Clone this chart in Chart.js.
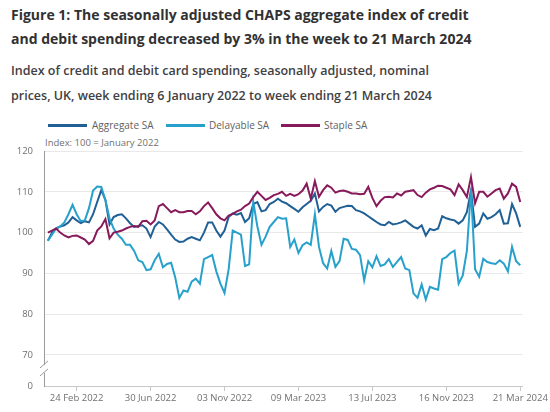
<!DOCTYPE html>
<html>
<head>
<meta charset="utf-8">
<script src="https://cdn.jsdelivr.net/npm/chart.js@4"></script>
<style>
  body { margin: 0; background: #fff; font-family: 'Open Sans', sans-serif; }
  #page { position: relative; width: 550px; height: 412px; overflow: hidden; }
  .t { position: absolute; left: 11px; white-space: nowrap; }
  .title { font-size: 14px; font-weight: 700; color: #323132; line-height: 24px; }
  .sub { font-size: 12.5px; font-weight: 600; color: #414042; line-height: 25px; }
  .leg { position: absolute; top: 118px; font-size: 10px; color: #5f5f5f; line-height: 14px; white-space: nowrap; }
  .sw { position: absolute; height: 3px; width: 39px; top: 124px; }
  #wrap { position: absolute; left: 0; top: 0; width: 550px; height: 412px; }
</style>
</head>
<body>
<div id="page">
  <div class="t title" style="top:3px">Figure 1: The seasonally adjusted CHAPS aggregate index of credit</div>
  <div class="t title" style="top:27px">and debit spending decreased by 3% in the week to 21 March 2024</div>
  <div class="t sub" style="top:58px">Index of credit and debit card spending, seasonally adjusted, nominal</div>
  <div class="t sub" style="top:83px">prices, UK, week ending 6 January 2022 to week ending 21 March 2024</div>

  <div class="sw" style="left:48px;background:#206095"></div>
  <div class="leg" style="left:92px">Aggregate SA</div>
  <div class="sw" style="left:166px;background:#27a0cc"></div>
  <div class="leg" style="left:209px">Delayable SA</div>
  <div class="sw" style="left:281px;background:#871a5b"></div>
  <div class="leg" style="left:324px">Staple SA</div>

  <div class="leg" style="left:45px;top:136px;font-size:9.5px;color:#707071">Index: 100 = January 2022</div>

  <div id="wrap"><canvas id="chart-1"></canvas></div>
</div>

<script>
// weekly series, week ending 6 Jan 2022 .. 21 Mar 2024
var aggregateSA = [
    98, 100, 101, 101.5, 101.8, 102.5, 103.8, 103, 102.3, 102.8,
    102.5, 104.5, 107.5, 110.4, 108, 102, 103.8, 104.3, 104.5, 103.5,
    102.3, 101.4, 101.6, 101.8, 101, 98.9, 101.5, 102.6, 102, 100.8,
    99.5, 98.3, 97.7, 97.8, 98.5, 98.9, 98.5, 98.1, 100, 102.5,
    102.5, 100.5, 99, 100.5, 103.8, 104.7, 104.4, 104.8, 102.6, 103.5,
    107, 107.5, 105.2, 105.5, 107, 107.5, 108.3, 107.6, 107.2, 106.5,
    105.8, 105.1, 106.2, 107, 107.8, 109.6, 105.2, 106.3, 107, 106.6,
    105.1, 106, 106.3, 106.6, 106.5, 105.5, 105.2, 104.7, 104, 103.3,
    102.6, 102, 101.8, 102.6, 102, 102.2, 102.5, 103, 102.2, 101.4,
    101, 101.8, 99.3, 100.9, 100.6, 101, 104, 103.5, 103.2, 103,
    102.2, 103, 105, 110.3, 101.4, 102.2, 104.7, 103.4, 103.8, 104.5,
    105.5, 102.2, 102.3, 107, 104.7, 101.4
];
var delayableSA = [
    98, 99.5, 101, 101.5, 102.5, 104.5, 106.8, 104.5, 102.8, 103,
    106, 110.3, 111.3, 111.2, 108, 103.5, 101, 99.5, 98.5, 97,
    97, 95.5, 93.2, 92.8, 90.8, 91, 93.2, 94.8, 91.5, 92.3,
    92.6, 89, 84, 85.8, 85.5, 88, 88.7, 87.5, 93.5, 94,
    94.5, 90.5, 87.5, 85.2, 91, 100.5, 100, 99.5, 91.8, 92.2,
    107.5, 101.5, 97, 99, 101.4, 102.6, 103.8, 103.4, 103.5, 96.5,
    98.3, 95, 96.9, 97.6, 97, 104.5, 96.5, 92.5, 91.2, 95.5,
    91.6, 93, 98.5, 98.2, 96, 95.8, 94.5, 88.3, 93, 91.5,
    94.2, 91.8, 92.2, 93.5, 91.6, 92.8, 94, 91.2, 90.8, 85.1,
    84, 87.3, 83.6, 86.7, 86.3, 86, 93.5, 94, 95, 95.6,
    87.5, 89.5, 95.5, 110.5, 91, 89.2, 93.6, 92.8, 92.5, 92.3,
    93.2, 92.4, 90.5, 96.5, 93, 92
];
var stapleSA = [
    100, 100.5, 101, 100, 99.3, 98.8, 99.2, 99.3, 98.8, 98.3,
    97.2, 98, 100.5, 101.5, 103.3, 98.6, 100, 100.2, 100.5, 101,
    101.4, 101.6, 101.4, 102.8, 102.9, 102, 103, 106.5, 107, 106,
    105, 105.5, 105, 105, 105.3, 105.3, 104.5, 105.2, 106.5, 107.4,
    106, 104.5, 103.5, 103, 104.2, 104.6, 105.2, 105.6, 106.5, 107.1,
    108.7, 110, 109, 108, 108.5, 109.2, 109.5, 110, 109, 109.5,
    109, 109.4, 110.3, 112, 108.3, 112.6, 108.8, 110.4, 111.6, 111,
    109.8, 110.2, 110.3, 110, 109.6, 109.6, 109.4, 109.5, 111.2, 108.5,
    106.5, 107.8, 108.7, 108.8, 108.6, 109.6, 109.1, 110, 110.2, 110.4,
    109.2, 108.7, 109.8, 110.6, 111, 111.5, 111.4, 111, 110.6, 109.2,
    111.8, 110.4, 108.7, 113.6, 107.2, 110, 110, 108.8, 109.6, 110.4,
    110.8, 108.3, 109.6, 112, 111.2, 107.5
];

var tickLabels = ["24 Feb 2022", "30 Jun 2022", "03 Nov 2022", "09 Mar 2023", "13 Jul 2023", "16 Nov 2023", "21 Mar 2024"];
var yTicks = [70, 80, 90, 100, 110, 120];
var yBottom = 62.4; // shown as "0" below the axis break

// week labels
var monthNames = ["Jan", "Feb", "Mar", "Apr", "May", "Jun", "Jul", "Aug", "Sep", "Oct", "Nov", "Dec"];
var weekLabels = [];
for (var i = 0; i < aggregateSA.length; i++) {
    var d = new Date(Date.UTC(2022, 0, 6 + 7 * i));
    var dd = ("0" + d.getUTCDate()).slice(-2);
    weekLabels.push(dd + " " + monthNames[d.getUTCMonth()] + " " + d.getUTCFullYear());
}
var tickIdx = tickLabels.map(function (l) { return weekLabels.indexOf(l); });

function toPoints(arr) {
    return arr.map(function (v, i) { return { x: i, y: v }; });
}

// dau gach cheo tren truc y
var axisBreak = {
    id: "axisBreak",
    afterDraw: function (chart) {
        var ctx = chart.ctx;
        var x = chart.chartArea.left;
        var yS = chart.scales.y;
        var yTop = yS.getPixelForValue(70);
        var yBot = yS.getPixelForValue(yBottom);
        var mid = yTop + (yBot - yTop) * 0.45;
        ctx.save();
        ctx.fillStyle = "#fff";
        ctx.fillRect(x - 3, mid - 4, 6, 8);
        ctx.strokeStyle = "#9a9a9a";
        ctx.lineWidth = 1;
        ctx.beginPath();
        ctx.moveTo(x - 4, mid - 1);
        ctx.lineTo(x + 4, mid - 8);
        ctx.moveTo(x - 4, mid + 7);
        ctx.lineTo(x + 4, mid);
        ctx.stroke();
        ctx.restore();
    }
};

Chart.defaults.font.family = "'Open Sans', sans-serif";

var ctx = document.getElementById("chart-1").getContext("2d");
var chart_1 = new Chart(ctx, {
    type: "line",
    data: {
        datasets: [
            {
                label: "Aggregate SA",
                data: toPoints(aggregateSA),
                borderColor: "#206095",
                borderWidth: 2,
                order: 3
            },
            {
                label: "Delayable SA",
                data: toPoints(delayableSA),
                borderColor: "#27a0cc",
                borderWidth: 2,
                order: 2
            },
            {
                label: "Staple SA",
                data: toPoints(stapleSA),
                borderColor: "#871a5b",
                borderWidth: 2,
                order: 1
            }
        ]
    },
    options: {
        responsive: true,
        maintainAspectRatio: false,
        animation: false,
        layout: { padding: { top: 151, right: 27, left: 0, bottom: 0 } },
        elements: { point: { radius: 0 }, line: { tension: 0, fill: false } },
        plugins: { legend: { display: false }, tooltip: { enabled: false } },
        scales: {
            x: {
                type: "linear",
                min: -0.95,
                max: 115.6,
                afterBuildTicks: function (scale) {
                    scale.ticks = tickIdx.map(function (v) { return { value: v }; });
                },
                afterFit: function (scale) { scale.height = 26; },
                ticks: {
                    autoSkip: false,
                    maxRotation: 0,
                    padding: 2,
                    color: "#707071",
                    font: { size: 9.5 },
                    callback: function (v) { return weekLabels[v]; }
                },
                grid: { drawOnChartArea: false, drawTicks: true, tickLength: 5, color: "#c8c8c8" },
                border: { display: true, color: "#c8c8c8" }
            },
            y: {
                min: yBottom,
                max: 120,
                afterBuildTicks: function (scale) {
                    scale.ticks = [yBottom].concat(yTicks).map(function (v) { return { value: v }; });
                },
                afterFit: function (scale) { scale.width = 44; },
                ticks: {
                    padding: 11,
                    color: "#707071",
                    font: { size: 9.5 },
                    callback: function (v) { return v < 65 ? "0" : v; }
                },
                grid: {
                    drawTicks: false,
                    color: function (c) { return c.tick && c.tick.value < 65 ? "rgba(0,0,0,0)" : "#e9e9e9"; }
                },
                border: { display: true, color: "#9a9a9a" }
            }
        }
    },
    plugins: [axisBreak]
});
</script>
</body>
</html>
